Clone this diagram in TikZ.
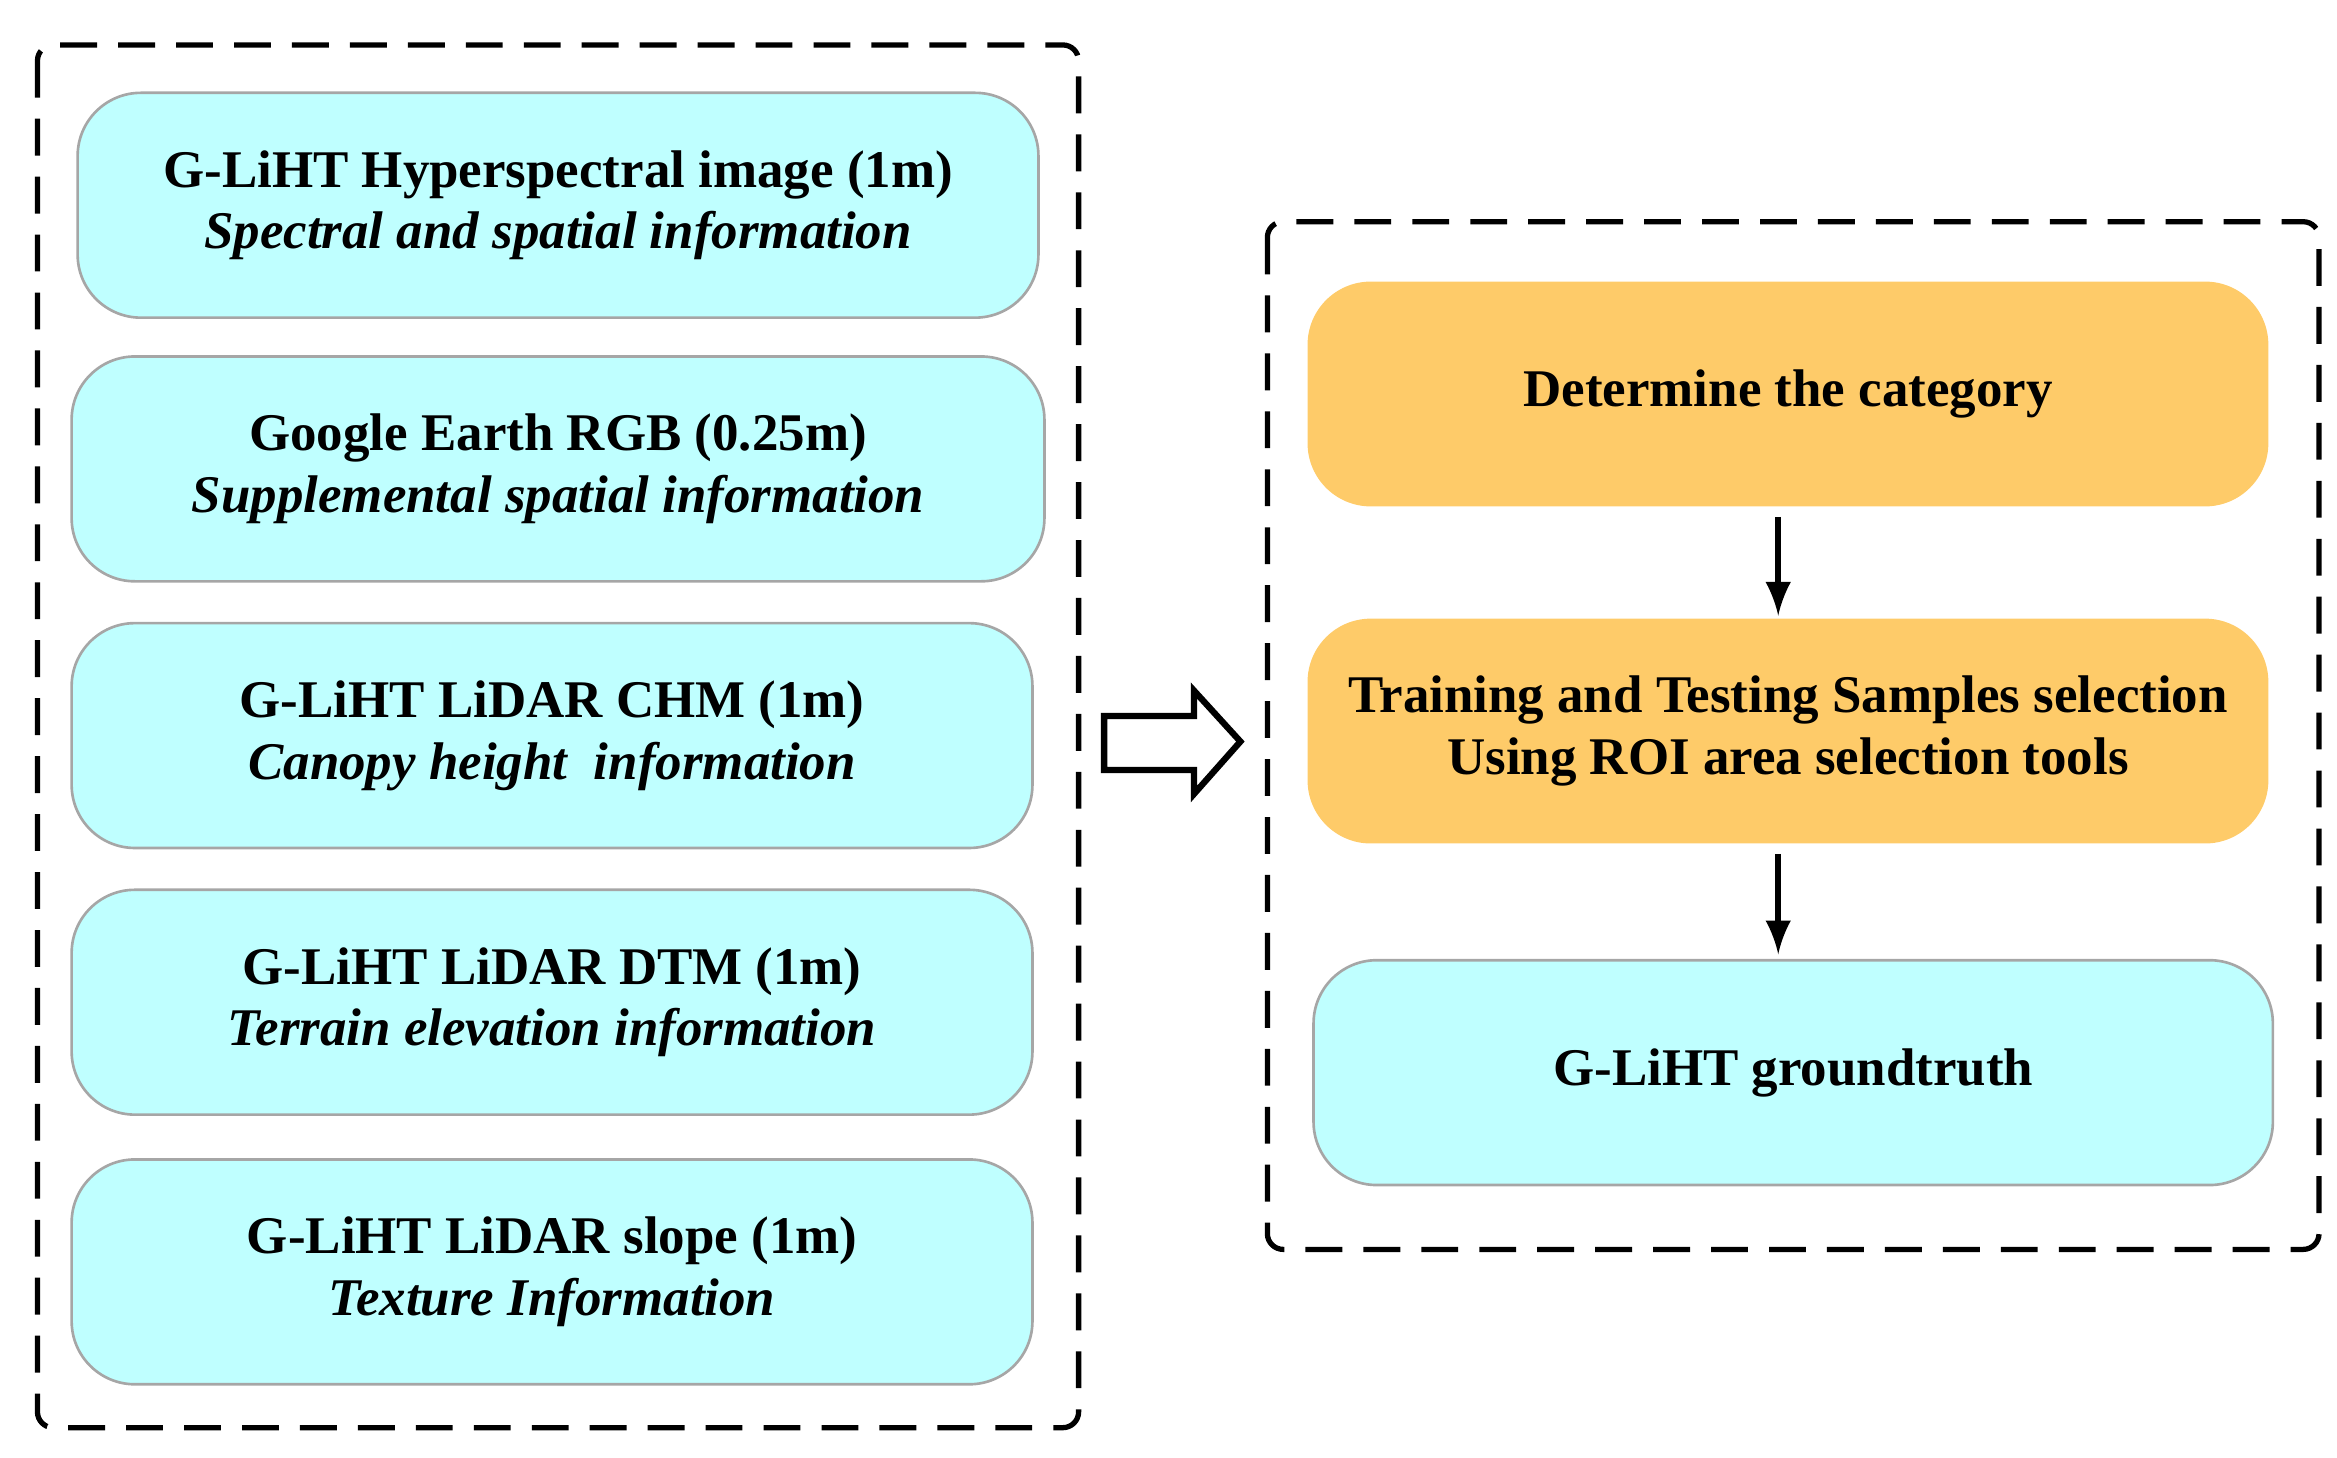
\documentclass[tikz,border=0pt]{standalone}
\usepackage{fontspec}
\setmainfont{Liberation Serif}
\begin{document}
\begin{tikzpicture}[x=0.01cm,y=-0.01cm,
  cy/.style={draw=black!35,rounded corners=12pt,line width=0.5pt,minimum height=1.5cm,inner sep=0pt},
  og/.style={draw=none,rounded corners=12pt,minimum height=1.5cm,inner sep=0pt},
  dbox/.style={draw,line width=1pt,dash pattern=on 7pt off 4pt,rounded corners=3pt},
  txt/.style={align=center,font=\fontsize{10.05}{11.7}\selectfont\bfseries},
  arr/.style={-latex,line width=1.2pt}]
\definecolor{cyb}{HTML}{BFFFFF}\definecolor{org}{HTML}{FECB69}
\tikzset{cy/.append style={fill=cyb},og/.append style={fill=org}}
\useasboundingbox (0,0) rectangle (1560,973);
\draw[dbox] (25,30) rectangle (720,953);
\draw[dbox] (846,148) rectangle (1548,834);
\node[cy,minimum width=6.41cm] (b1) at (372.5,137) {};
\node[cy,minimum width=6.49cm] (b2) at (372.5,313) {};
\node[cy,minimum width=6.41cm] (b3) at (368.5,491) {};
\node[cy,minimum width=6.41cm] (b4) at (368.5,669) {};
\node[cy,minimum width=6.41cm] (b5) at (368.5,849) {};
\node[txt] at (b1) {G-LiHT Hyperspectral image (1m)\\ \itshape Spectral and spatial information};
\node[txt] at (b2) {Google Earth RGB (0.25m)\\ \itshape Supplemental spatial information};
\node[txt] at (b3) {G-LiHT LiDAR CHM (1m)\\ \itshape Canopy height\ \ information};
\node[txt] at (b4) {G-LiHT LiDAR DTM (1m)\\ \itshape Terrain elevation information};
\node[txt] at (b5) {G-LiHT LiDAR slope (1m)\\ \itshape Texture Information};
\node[og,minimum width=6.41cm] (o1) at (1193.5,263) {};
\node[og,minimum width=6.41cm] (o2) at (1193.5,488) {};
\node[cy,minimum width=6.40cm] (c1) at (1197,716) {};
\node[txt] at (o1) {Determine the category};
\node[txt] at (o2) {Training and Testing Samples selection\\Using ROI area selection tools};
\node[txt] at (c1) {G-LiHT groundtruth};
\coordinate (a1s) at (1187,345); \coordinate (a1e) at (1187,411);
\coordinate (a2s) at (1187,570); \coordinate (a2e) at (1187,637);
\draw[arr] (a1s) -- (a1e);
\draw[arr] (a2s) -- (a2e);
\draw[line width=1.2pt,fill=white,line join=miter] (737,478) -- (797,478) -- (797,461) -- (828,495) -- (797,530) -- (797,514) -- (737,514) -- cycle;
\end{tikzpicture}
\end{document}
